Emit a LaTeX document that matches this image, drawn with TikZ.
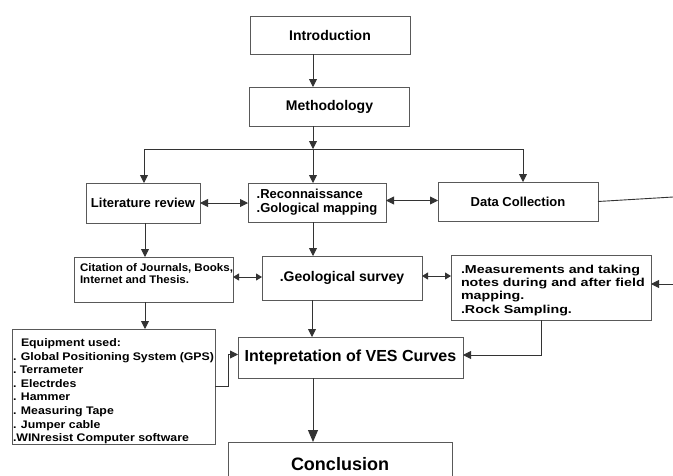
\documentclass[tikz,border=0pt]{standalone}
\usepackage{fontspec}
\setmainfont{Liberation Sans}
\newfontfamily\fMeas[FakeStretch=1.24]{Liberation Sans}
\newfontfamily\fEquip[FakeStretch=1.12]{Liberation Sans}
\newfontfamily\fCite[FakeStretch=1.05]{Liberation Sans}
\usetikzlibrary{arrows.meta,calc}
\begin{document}
\begin{tikzpicture}[x=1pt,y=-1pt,
  box/.style={draw=black!65,line width=0.9pt,inner sep=0pt,outer sep=0pt,font=\bfseries},
  arr/.style={draw=black!80,line width=0.9pt,-{Triangle[length=8pt,width=8pt]}},
  darr/.style={draw=black!80,line width=0.9pt,{Triangle[length=8pt,width=8pt]}-{Triangle[length=8pt,width=8pt]}},
  sdarr/.style={draw=black!80,line width=0.9pt,{Triangle[length=6pt,width=7pt]}-{Triangle[length=6pt,width=7pt]}},
  bigarr/.style={draw=black!80,line width=0.9pt,-{Triangle[length=12pt,width=10pt]}},
  ln/.style={draw=black!80,line width=0.9pt}]
\useasboundingbox (0,0) rectangle (673,475);
\clip (0,0) rectangle (673,475);

\node[box,minimum width=160,minimum height=38,font=\bfseries\fontsize{14}{16}\selectfont] (intro) at (330,35) {Introduction};
\node[box,minimum width=160,minimum height=39,font=\bfseries\fontsize{14}{16}\selectfont] (meth) at (329.5,106.5) {Methodology};

\node[box,minimum width=114,minimum height=40,font=\bfseries\fontsize{13}{15}\selectfont] (lit) at (143,203) {Literature review};
\node[box,minimum width=138,minimum height=39,font=\bfseries\fontsize{13}{14}\selectfont,align=left] (recon) at (317,202.5) {.Reconnaissance\\.Gological mapping};
\node[box,minimum width=160,minimum height=39,font=\bfseries\fontsize{13}{15}\selectfont] (data) at (518,201.5) {Data Collection};

\node[box,minimum width=159,minimum height=45] (cite) at (153.5,279.5)
  {\parbox[c][45pt][t]{159pt}{\leftskip=6pt\fCite\bfseries\fontsize{11}{12}\selectfont\vspace*{6.5pt}Citation of Journals, Books,\\Internet and Thesis.}};
\node[box,minimum width=160,minimum height=44,font=\bfseries\fontsize{14}{16}\selectfont] (geo) at (342,278) {.Geological survey};
\node[box,minimum width=200,minimum height=65] (meas) at (551,287.5)
  {\parbox[c][65pt][t]{200pt}{\leftskip=10pt\fMeas\bfseries\fontsize{11.5}{13.3}\selectfont\vspace*{10pt}.Measurements and taking\\notes during and after field\\mapping.\\.Rock Sampling.}};

\node[box,minimum width=203,minimum height=115] (equip) at (113.5,386.5)
  {\parbox[c][115pt][t]{201pt}{\fEquip\bfseries\fontsize{11}{13.6}\selectfont\vspace*{9.5pt}\hspace*{8pt}Equipment used:\\. Global Positioning System (GPS)\\. Terrameter\\. Electrdes\\. Hammer\\. Measuring Tape\\. Jumper cable\\.WINresist Computer software}};

\node[box,minimum width=225,minimum height=41,font=\bfseries\fontsize{16}{18}\selectfont] (interp) at (350.5,357.5) {Intepretation of VES Curves};
\node[box,minimum width=224,minimum height=44,font=\bfseries\fontsize{18}{20}\selectfont] (concl) at (340,464) {Conclusion};

% bus coordinates
\coordinate (bL) at (144,149);
\coordinate (bM) at (313,149);
\coordinate (bR) at (523,149);
\coordinate (edgeA) at (673,197);
\coordinate (edgeB) at (673,284);

\draw[arr] (intro.south -| bM) -- (meth.north -| bM);
\draw[arr] (meth.south -| bM) -- (bM);
\draw[ln] (bL) -- (bR);
\draw[arr] (bL) -- (lit.north -| bL);
\draw[arr] (bM) -- (recon.north -| bM);
\draw[arr] (bR) -- (data.north -| bR);

\draw[darr] (lit.east) -- (lit.east -| recon.west);
\draw[darr] ([yshift=2pt]recon.east) -- ([yshift=2pt]recon.east -| data.west);

\draw[arr] ([xshift=2pt]lit.south) -- ([xshift=2pt]lit.south |- cite.north);
\draw[arr] (recon.south -| bM) -- (geo.north -| bM);

\draw[sdarr] ([yshift=2.5pt]cite.east) -- ([yshift=2.5pt]cite.east -| geo.west);
\draw[sdarr] ([yshift=2pt]geo.east) -- ([yshift=2pt]geo.east -| meas.west);

\draw[ln] (data.east) -- (edgeA);
\draw[arr] (edgeB) -- (meas.east |- edgeB);

\draw[arr] ([xshift=2pt]lit.south |- cite.south) -- ([xshift=2pt]lit.south |- equip.north);
\draw[arr] ([xshift=-1pt]bM |- geo.south) -- ([xshift=-1pt]bM |- interp.north);
\draw[arr] ([xshift=-10pt]meas.south) |- ([yshift=2.5pt]interp.east);
\draw[arr] (equip.east) -- ++(13,0) |- ([yshift=3pt]interp.west);
\draw[bigarr] (interp.south -| bM) -- (concl.north -| bM);
\end{tikzpicture}
\end{document}
